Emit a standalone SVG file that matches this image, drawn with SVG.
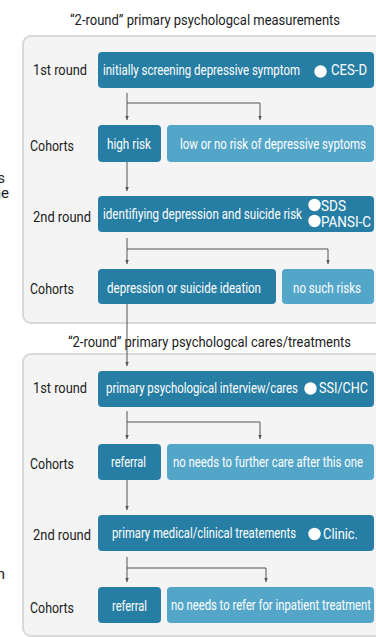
<svg xmlns="http://www.w3.org/2000/svg" width="376" height="637" viewBox="0 0 376 637">
<defs>
<style>
.panel{fill:#f4f4f4;stroke:#d9d9d9;stroke-width:2}
.dark{fill:#277ea4}
.light{fill:#54a6c9}
.t{font-family:Roboto,"Liberation Sans",sans-serif;font-size:15px}
.w{fill:#ffffff}
.k{fill:#1c1c1c}
.title{font-family:Roboto,"Liberation Sans",sans-serif;font-size:14.5px;fill:#1c1c1c}
.dot{fill:#ffffff}
.conn{fill:none;stroke:#555555;stroke-width:1}
</style>
<marker id="arr" markerWidth="5" markerHeight="5" refX="2.5" refY="4.5" orient="0" markerUnits="userSpaceOnUse">
<path d="M0.5,0 L4.5,0 L2.5,4.5 z" fill="#555555"/>
</marker>
</defs>
<rect width="376" height="637" fill="#ffffff"/>

<g id="fragments">
<text class="t k" x="5" y="183" text-anchor="end">s</text>
<text class="t k" x="9" y="198" text-anchor="end">ne</text>
<text class="t k" x="5" y="579" text-anchor="end">n</text>
</g>

<g id="panel1">
<rect class="panel" x="23" y="36" width="370" height="287" rx="8"/>
<text class="title" x="70" y="25" textLength="270" lengthAdjust="spacingAndGlyphs">“2-round” primary psychologcal measurements</text>
<text class="t k" x="33" y="74.5" textLength="54" lengthAdjust="spacingAndGlyphs">1st round</text>
<text class="t k" x="30" y="151" textLength="44" lengthAdjust="spacingAndGlyphs">Cohorts</text>
<text class="t k" x="33" y="221.5" textLength="58" lengthAdjust="spacingAndGlyphs">2nd round</text>
<text class="t k" x="30" y="294" textLength="44" lengthAdjust="spacingAndGlyphs">Cohorts</text>
</g>

<g id="panel2">
<rect class="panel" x="23" y="354" width="370" height="282" rx="8"/>
<text class="title" x="68" y="347" textLength="283" lengthAdjust="spacingAndGlyphs">“2-round” primary psychologcal cares/treatments</text>
<text class="t k" x="33" y="393" textLength="54" lengthAdjust="spacingAndGlyphs">1st round</text>
<text class="t k" x="30" y="469" textLength="44" lengthAdjust="spacingAndGlyphs">Cohorts</text>
<text class="t k" x="33" y="540" textLength="58" lengthAdjust="spacingAndGlyphs">2nd round</text>
<text class="t k" x="30" y="613" textLength="44" lengthAdjust="spacingAndGlyphs">Cohorts</text>
</g>

<g id="connectors">
<path class="conn" d="M127,93 V120" marker-end="url(#arr)"/>
<path class="conn" d="M127,103 H260 V120" marker-end="url(#arr)"/>
<path class="conn" d="M127,162 V191" marker-end="url(#arr)"/>
<path class="conn" d="M127,238 V264" marker-end="url(#arr)"/>
<path class="conn" d="M127,249 H328 V264" marker-end="url(#arr)"/>
<path class="conn" d="M127,304 V366" marker-end="url(#arr)"/>
<path class="conn" d="M127,411 V439" marker-end="url(#arr)"/>
<path class="conn" d="M127,422 H260 V439" marker-end="url(#arr)"/>
<path class="conn" d="M127,480 V510" marker-end="url(#arr)"/>
<path class="conn" d="M127,557 V582" marker-end="url(#arr)"/>
<path class="conn" d="M127,568 H266 V582" marker-end="url(#arr)"/>
</g>

<g id="screening">
<rect class="dark" x="98" y="52" width="276" height="36" rx="4"/>
<text class="t w" x="103" y="75" textLength="197" lengthAdjust="spacingAndGlyphs">initially screening depressive symptom</text>
<circle class="dot" cx="320.5" cy="71.5" r="6.2"/>
<text class="t w" x="331" y="75" textLength="36" lengthAdjust="spacingAndGlyphs">CES-D</text>
</g>

<g id="high-risk">
<rect class="dark" x="98" y="125" width="63" height="37" rx="4"/>
<text class="t w" x="107" y="148.5" textLength="44" lengthAdjust="spacingAndGlyphs">high risk</text>
</g>

<g id="low-risk">
<rect class="light" x="167" y="125" width="207" height="37" rx="4"/>
<text class="t w" x="180" y="148.5" textLength="186" lengthAdjust="spacingAndGlyphs">low or no risk of depressive syptoms</text>
</g>

<g id="identifying">
<rect class="dark" x="98" y="196" width="276" height="36" rx="4"/>
<text class="t w" x="103" y="219" textLength="199" lengthAdjust="spacingAndGlyphs">identifiying depression and suicide risk</text>
<circle class="dot" cx="314.5" cy="205" r="6.2"/>
<text class="t w" x="321" y="211" textLength="25" lengthAdjust="spacingAndGlyphs">SDS</text>
<circle class="dot" cx="314.5" cy="221" r="6.2"/>
<text class="t w" x="321" y="227" textLength="50" lengthAdjust="spacingAndGlyphs">PANSI-C</text>
</g>

<g id="depression">
<rect class="dark" x="98" y="269" width="178" height="35" rx="4"/>
<text class="t w" x="107" y="292.5" textLength="154" lengthAdjust="spacingAndGlyphs">depression or suicide ideation</text>
</g>

<g id="no-such">
<rect class="light" x="282" y="269" width="92" height="35" rx="4"/>
<text class="t w" x="293" y="292.5" textLength="68" lengthAdjust="spacingAndGlyphs">no such risks</text>
</g>

<g id="interview">
<rect class="dark" x="98" y="371" width="276" height="36" rx="4"/>
<text class="t w" x="106" y="393" textLength="192" lengthAdjust="spacingAndGlyphs">primary psychological interview/cares</text>
<circle class="dot" cx="310.5" cy="388.5" r="6.2"/>
<text class="t w" x="319" y="393" textLength="49" lengthAdjust="spacingAndGlyphs">SSI/CHC</text>
</g>

<g id="referral1">
<rect class="dark" x="98" y="444" width="63" height="36" rx="4"/>
<text class="t w" x="111" y="467" textLength="35" lengthAdjust="spacingAndGlyphs">referral</text>
</g>

<g id="no-further">
<rect class="light" x="167" y="444" width="207" height="36" rx="4"/>
<text class="t w" x="173" y="467" textLength="190" lengthAdjust="spacingAndGlyphs">no needs to further care after this one</text>
</g>

<g id="clinical">
<rect class="dark" x="98" y="515" width="276" height="36" rx="4"/>
<text class="t w" x="112" y="538" textLength="184" lengthAdjust="spacingAndGlyphs">primary medical/clinical treatements</text>
<circle class="dot" cx="314.5" cy="534" r="6.2"/>
<text class="t w" x="323" y="538.5" textLength="35" lengthAdjust="spacingAndGlyphs">Clinic.</text>
</g>

<g id="referral2">
<rect class="dark" x="98" y="587" width="63" height="36" rx="4"/>
<text class="t w" x="112" y="611" textLength="35" lengthAdjust="spacingAndGlyphs">referral</text>
</g>

<g id="no-inpatient">
<rect class="light" x="167" y="587" width="207" height="36" rx="4"/>
<text class="t w" x="171" y="609.5" textLength="200" lengthAdjust="spacingAndGlyphs">no needs to refer for inpatient treatment</text>
</g>
</svg>
